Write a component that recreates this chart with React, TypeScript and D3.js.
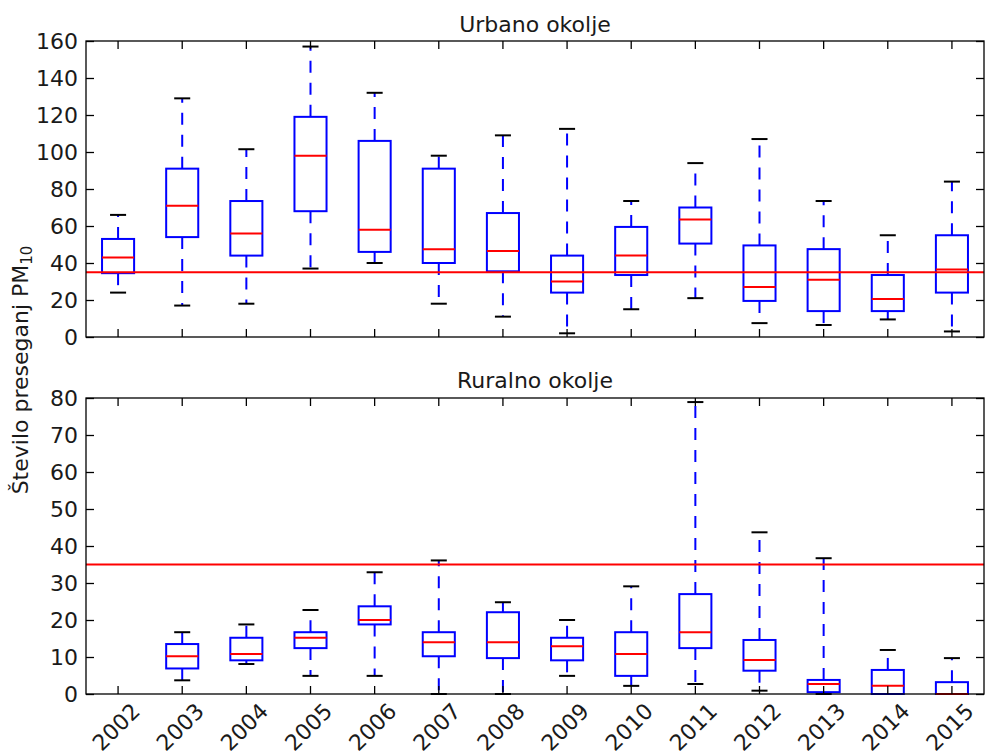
import React, { useRef, useEffect } from "react";
import * as d3 from "d3";

// Box plot statistics
const years = ["2002", "2003", "2004", "2005", "2006", "2007", "2008", "2009", "2010", "2011", "2012", "2013", "2014", "2015"];

const urbanLo = [24, 17, 18, 37, 40, 18, 11, 2, 15, 21, 7.5, 6.5, 9.5, 3];
const urbanQ1 = [34.5, 54, 44, 68, 46, 40, 35.5, 24, 33.5, 50.5, 19.5, 14, 14, 24];
const urbanMed = [43, 71, 56, 98, 58, 47.5, 46.5, 30, 44, 63.5, 27, 31, 20.5, 36.5];
const urbanQ3 = [53, 91, 73.5, 119, 106, 91, 67, 44, 59.5, 70, 49.5, 47.5, 33.5, 55];
const urbanHi = [66, 129, 101.5, 157, 132, 98, 109, 112.5, 73.5, 94, 107, 73.5, 55, 84];

const ruralLo = [null, 3.7, 8.1, 4.9, 4.9, 0, 0, 4.9, 2.2, 2.7, 0.9, 0, 0, 0];
const ruralQ1 = [null, 6.9, 9.1, 12.4, 18.8, 10.2, 9.7, 9.1, 4.9, 12.4, 6.3, 0.5, 0, 0];
const ruralMed = [null, 10.2, 10.8, 15.2, 20, 14, 14, 12.9, 10.8, 16.7, 9.2, 2.7, 2.2, 0];
const ruralQ3 = [null, 13.5, 15.2, 16.7, 23.7, 16.7, 22.1, 15.2, 16.7, 27, 14.6, 3.8, 6.5, 3.2];
const ruralHi = [null, 16.7, 18.8, 22.7, 32.9, 36.1, 24.8, 20, 29.1, 78.9, 43.7, 36.7, 11.9, 9.7];

const limit = 35;

const FONT = "DejaVu Sans";
const FS = 22;
const W = 985;
const H = 756;
const left = 86;
const right = 984;

const drawPanel = (svg, opts) => {
  const { top, bottom, yMax, yStep, lo, q1, med, q3, hi, title, titleY, showLabels } = opts;
  const x = d3.scaleBand().domain(years).range([left, right]).padding(0);
  const bw = x.bandwidth();
  const cx = (d) => x(d) + bw / 2;
  const y = d3.scaleLinear().domain([0, yMax]).range([bottom, top]);
  const ticks = d3.range(0, yMax + 1, yStep);

  const g = svg.append("g");

  // boxes
  years.forEach((yr, i) => {
    if (med[i] == null) return;
    const c = cx(yr);
    // whiskers
    [[q1[i], lo[i]], [q3[i], hi[i]]].forEach(([a, b]) => {
      g.append("line")
        .attr("x1", c).attr("x2", c)
        .attr("y1", y(a)).attr("y2", y(b))
        .attr("stroke", "#0000ff")
        .attr("stroke-width", 2)
        .attr("stroke-dasharray", "12,10");
    });
    // caps
    [lo[i], hi[i]].forEach((v) => {
      g.append("line")
        .attr("x1", c - bw / 8).attr("x2", c + bw / 8)
        .attr("y1", y(v)).attr("y2", y(v))
        .attr("stroke", "#000")
        .attr("stroke-width", 2);
    });
    g.append("rect")
      .attr("x", c - bw / 4)
      .attr("y", y(q3[i]))
      .attr("width", bw / 2)
      .attr("height", y(q1[i]) - y(q3[i]))
      .attr("fill", "none")
      .attr("stroke", "#0000ff")
      .attr("stroke-width", 2);
    g.append("line")
      .attr("x1", c - bw / 4).attr("x2", c + bw / 4)
      .attr("y1", y(med[i])).attr("y2", y(med[i]))
      .attr("stroke", "#ff0000")
      .attr("stroke-width", 2);
  });

  // limit line
  g.append("line")
    .attr("x1", left).attr("x2", right)
    .attr("y1", y(limit)).attr("y2", y(limit))
    .attr("stroke", "#ff0000")
    .attr("stroke-width", 2);

  // axes, ticks pointing inward
  const styleAxis = (a) => {
    a.select(".domain").remove();
    a.selectAll("line").attr("stroke", "#000").attr("stroke-width", 1.3);
    a.selectAll("text").attr("font-family", FONT).attr("font-size", FS).attr("fill", "#1a1a1a");
  };

  const yl = g.append("g")
    .attr("transform", `translate(${left},0)`)
    .call(d3.axisLeft(y).tickValues(ticks).tickSize(-8).tickPadding(8));
  styleAxis(yl);
  yl.selectAll("text").attr("dy", "0.33em");

  const yr = g.append("g")
    .attr("transform", `translate(${right},0)`)
    .call(d3.axisRight(y).tickValues(ticks).tickSize(-8).tickFormat(() => ""));
  styleAxis(yr);

  const xt = g.append("g")
    .attr("transform", `translate(0,${top})`)
    .call(d3.axisTop(x).tickSize(-8).tickFormat(() => ""));
  styleAxis(xt);

  const xb = g.append("g")
    .attr("transform", `translate(0,${bottom})`)
    .call(d3.axisBottom(x).tickSize(-8).tickFormat(showLabels ? (d) => d : () => ""));
  styleAxis(xb);
  if (showLabels) {
    xb.selectAll("text")
      .attr("y", 0)
      .attr("dy", "0.35em")
      .attr("text-anchor", "middle")
      .attr("transform", "translate(-2,33) rotate(-45)");
  }

  // frame
  g.append("rect")
    .attr("x", left)
    .attr("y", top)
    .attr("width", right - left)
    .attr("height", bottom - top)
    .attr("fill", "none")
    .attr("stroke", "#000")
    .attr("stroke-width", 1.3);

  g.append("text")
    .attr("x", (left + right) / 2)
    .attr("y", titleY)
    .attr("text-anchor", "middle")
    .attr("font-family", FONT)
    .attr("font-size", FS)
    .attr("fill", "#1a1a1a")
    .text(title);
};

const App = () => {
  const ref = useRef(null);

  useEffect(() => {
    const svg = d3.select(ref.current);
    svg.selectAll("*").remove();
    svg.append("rect").attr("width", W).attr("height", H).attr("fill", "#fff");

    drawPanel(svg, {
      top: 41, bottom: 337, yMax: 160, yStep: 20,
      lo: urbanLo, q1: urbanQ1, med: urbanMed, q3: urbanQ3, hi: urbanHi,
      title: "Urbano okolje", titleY: 32, showLabels: false,
    });
    drawPanel(svg, {
      top: 398, bottom: 694, yMax: 80, yStep: 10,
      lo: ruralLo, q1: ruralQ1, med: ruralMed, q3: ruralQ3, hi: ruralHi,
      title: "Ruralno okolje", titleY: 388, showLabels: true,
    });

    const lab = svg.append("text")
      .attr("transform", "translate(28,370) rotate(-90)")
      .attr("text-anchor", "middle")
      .attr("font-family", FONT)
      .attr("font-size", FS)
      .attr("fill", "#1a1a1a");
    lab.append("tspan").text("Število preseganj PM");
    lab.append("tspan").attr("font-size", 15).attr("dy", 4).text("10");
  }, []);

  return (
    <div style={{ position: "absolute", left: 0, top: 0 }}>
      <svg ref={ref} width={W} height={H} style={{ display: "block" }}></svg>
    </div>
  );
};

export default App;
